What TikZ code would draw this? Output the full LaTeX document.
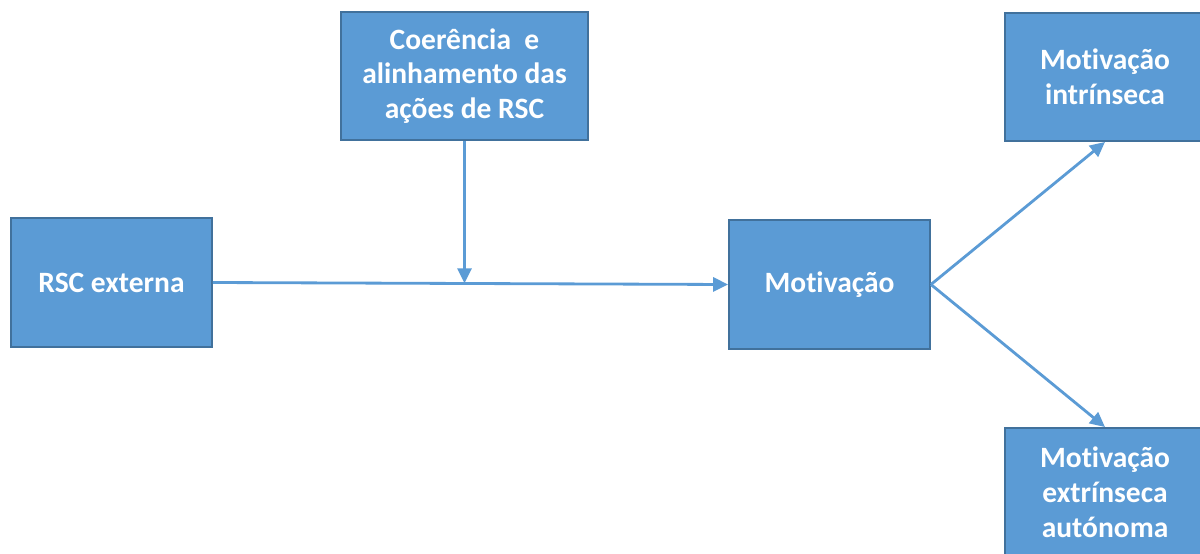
\documentclass[tikz,border=0pt]{standalone}
\usepackage{fontspec}
\setmainfont[RawFeature={-liga;-clig;-dlig}]{Carlito}
\usetikzlibrary{arrows.meta}
\definecolor{boxfill}{HTML}{5B9BD5}
\definecolor{boxline}{HTML}{41719C}
\begin{document}
\begin{tikzpicture}[x = 0.02cm, y = -0.02cm,
  box/.style = {draw = boxline, fill = boxfill, line width = 1.1pt, text = white, align = center,
                font = \fontsize{16.8}{19.8}\selectfont\bfseries, inner sep = 0pt},
  link/.style = {draw = boxfill, line width = 1.6pt, -{Triangle[length = 8.5pt, width = 8pt]}}]
\useasboundingbox (0,0) rectangle (1200,554);
\node[box, minimum width = 4.02cm, minimum height = 2.58cm] (rsc) at (111.5,282.5) {RSC externa};
\node[box, minimum width = 4.94cm, minimum height = 2.56cm] (coer) at (464.5,76) {Coerência \ e\\alinhamento das\\ações de RSC};
\node[box, minimum width = 4.02cm, minimum height = 2.58cm] (motiv) at (829.5,284.5) {Motivação};
\node[box, minimum width = 4.0cm, minimum height = 2.56cm] (intr) at (1105,77) {Motivação\\intrínseca};
\node[box, minimum width = 4.0cm, minimum height = 2.56cm] (extr) at (1105,492) {Motivação\\extrínseca\\autónoma};
\coordinate (join) at (464.5,283.3);
\draw[link] (rsc.east) -- (motiv.west);
\draw[link] (coer.south) -- (join);
\draw[link] (motiv.east) -- (intr.south);
\draw[link] (motiv.east) -- (extr.north);
\end{tikzpicture}
\end{document}
